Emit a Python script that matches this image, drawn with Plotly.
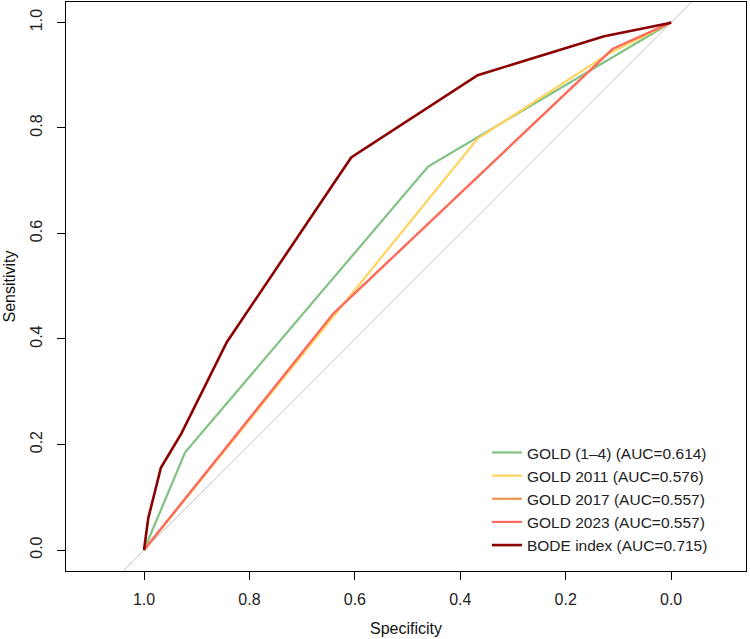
import plotly.graph_objects as go

# ---- data ----
series_names = [
    "GOLD (1\u20134) (AUC=0.614)",
    "GOLD 2011 (AUC=0.576)",
    "GOLD 2017 (AUC=0.557)",
    "GOLD 2023 (AUC=0.557)",
    "BODE index (AUC=0.715)",
]

spec_gold14 = [1.0, 0.922, 0.461, 0.0]
sens_gold14 = [0.0, 0.185, 0.727, 1.0]

spec_gold2011 = [1.0, 0.367, 0.12, 0.0]
sens_gold2011 = [0.0, 0.78, 0.94, 1.0]

spec_gold2017 = [1.0, 0.641, 0.111, 0.0]
sens_gold2017 = [0.0, 0.448, 0.95, 1.0]

spec_gold2023 = [1.0, 0.641, 0.111, 0.0]
sens_gold2023 = [0.0, 0.448, 0.95, 1.0]

spec_bode = [1.0, 0.992, 0.968, 0.929, 0.843, 0.607, 0.367, 0.127, 0.007, 0.0]
sens_bode = [0.0, 0.06, 0.156, 0.221, 0.394, 0.744, 0.9, 0.974, 0.998, 1.0]

diag_spec = [1.3, -0.3]
diag_sens = [-0.3, 1.3]

tick_vals = [0.0, 0.2, 0.4, 0.6, 0.8, 1.0]
tick_text = ["0.0", "0.2", "0.4", "0.6", "0.8", "1.0"]

x_title = "Specificity"
y_title = "Sensitivity"

colors = ["#80C281", "#FFD35C", "#F4924A", "#FF6A60", "#8B0000"]
widths = [2.2, 2.2, 2.2, 2.2, 2.6]

FONT = "Liberation Sans, Arial, sans-serif"

fig = go.Figure()

fig.add_trace(go.Scatter(x=diag_spec, y=diag_sens, mode="lines",
                         line=dict(color="#C4C4C4", width=1),
                         showlegend=False, hoverinfo="skip"))

all_spec = [spec_gold14, spec_gold2011, spec_gold2017, spec_gold2023, spec_bode]
all_sens = [sens_gold14, sens_gold2011, sens_gold2017, sens_gold2023, sens_bode]

for name, xs, ys, c, w in zip(series_names, all_spec, all_sens, colors, widths):
    fig.add_trace(go.Scatter(x=xs, y=ys, mode="lines", name=name,
                             line=dict(color=c, width=w)))

axis_common = dict(
    showgrid=False, zeroline=False, automargin=False,
    showline=True, linecolor="black", linewidth=1, mirror=True,
    ticks="outside", ticklen=8, tickwidth=1, tickcolor="black",
    tickvals=tick_vals, ticktext=tick_text,
    tickfont=dict(family=FONT, size=16, color="#222222"),
)

fig.update_layout(
    width=750, height=639,
    margin=dict(l=66, r=4, t=2, b=68),
    paper_bgcolor="white", plot_bgcolor="white",
    font=dict(family=FONT, size=16, color="#111111"),
    xaxis=dict(range=[1.148, -0.142], ticklabelstandoff=6, **axis_common),
    yaxis=dict(range=[-0.0398, 1.0388], tickangle=-90, ticklabelstandoff=9, **axis_common),
    legend=dict(x=0.619, y=0.016, xanchor="left", yanchor="bottom",
                bgcolor="rgba(0,0,0,0)", borderwidth=0,
                font=dict(family=FONT, size=15.5, color="#222222")),
    annotations=[
        dict(text=x_title, xref="paper", yref="paper", x=0.5, y=-0.1002,
             xanchor="center", yanchor="middle", showarrow=False,
             font=dict(family=FONT, size=16, color="#111111")),
        dict(text=y_title, xref="paper", yref="paper", x=-0.0824, y=0.5,
             xanchor="center", yanchor="middle", showarrow=False, textangle=-90,
             font=dict(family=FONT, size=16, color="#111111")),
    ],
)

fig.write_html(
    "out.html",
    config={"displayModeBar": False},
    post_script="document.body.style.margin='0';document.body.style.padding='0';document.body.style.overflow='hidden';",
)
